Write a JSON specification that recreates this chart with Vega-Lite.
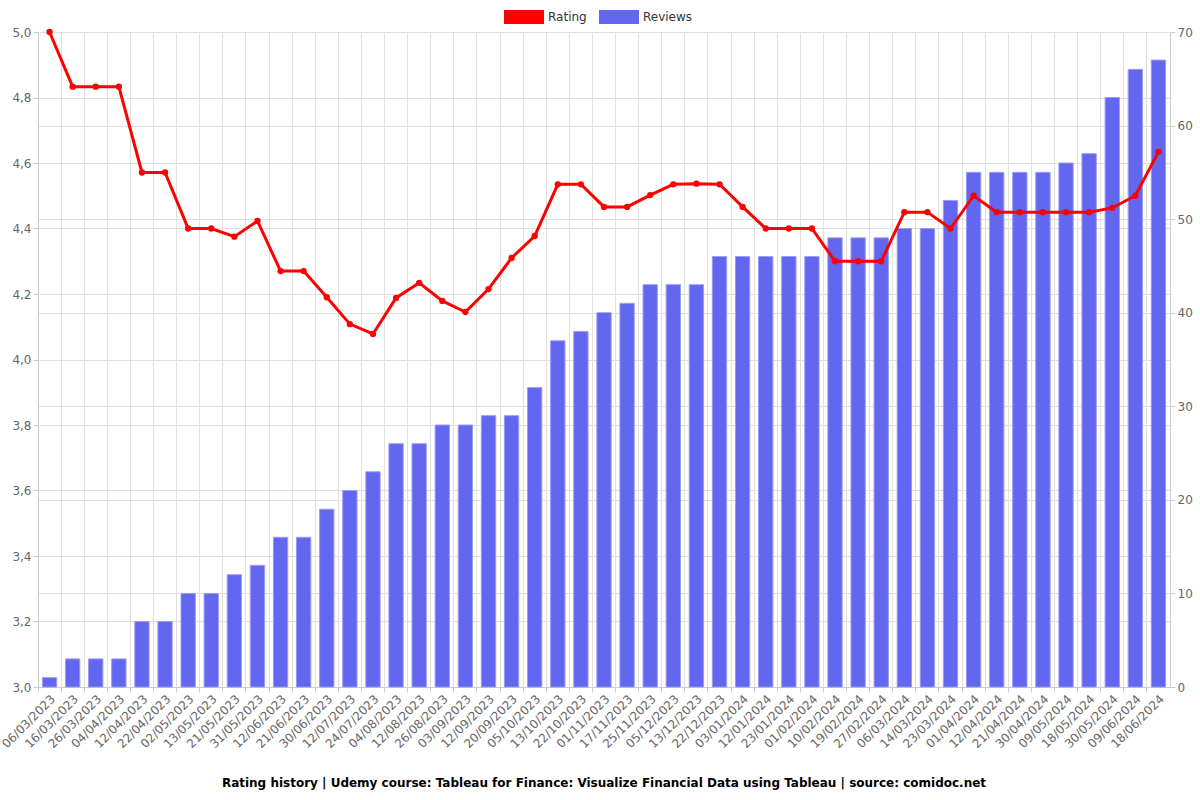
{
  "$schema": "https://vega.github.io/schema/vega-lite/v6.json",
  "autosize": {"type": "none"},
  "width": 1132,
  "height": 655,
  "padding": {"left": 38, "top": 32, "right": 30, "bottom": 113},
  "background": "white",
  "config": {
    "font": "DejaVu Sans",
    "view": {"stroke": null},
    "axis": {"labelFont": "DejaVu Sans", "labelFontSize": 12, "labelColor": "#666", "gridColor": "#e0e0e0", "domainColor": "#ccc", "tickColor": "#ccc"},
    "legend": {"labelFont": "DejaVu Sans", "labelFontSize": 12, "labelColor": "#333"}
  },
  "title": {
    "text": "Rating history | Udemy course: Tableau for Finance: Visualize Financial Data using Tableau | source: comidoc.net",
    "orient": "bottom",
    "anchor": "middle",
    "fontSize": 12,
    "fontWeight": "bold",
    "color": "#000",
    "offset": 28
  },
  "data": {
    "values": [
      {"date": "06/03/2023", "rating": 5.0, "reviews": 1},
      {"date": "16/03/2023", "rating": 4.833, "reviews": 3},
      {"date": "26/03/2023", "rating": 4.833, "reviews": 3},
      {"date": "04/04/2023", "rating": 4.833, "reviews": 3},
      {"date": "12/04/2023", "rating": 4.571, "reviews": 7},
      {"date": "22/04/2023", "rating": 4.571, "reviews": 7},
      {"date": "02/05/2023", "rating": 4.4, "reviews": 10},
      {"date": "13/05/2023", "rating": 4.4, "reviews": 10},
      {"date": "21/05/2023", "rating": 4.375, "reviews": 12},
      {"date": "31/05/2023", "rating": 4.423, "reviews": 13},
      {"date": "12/06/2023", "rating": 4.27, "reviews": 16},
      {"date": "21/06/2023", "rating": 4.27, "reviews": 16},
      {"date": "30/06/2023", "rating": 4.19, "reviews": 19},
      {"date": "12/07/2023", "rating": 4.108, "reviews": 21},
      {"date": "24/07/2023", "rating": 4.078, "reviews": 23},
      {"date": "04/08/2023", "rating": 4.188, "reviews": 26},
      {"date": "12/08/2023", "rating": 4.234, "reviews": 26},
      {"date": "26/08/2023", "rating": 4.179, "reviews": 28},
      {"date": "03/09/2023", "rating": 4.145, "reviews": 28},
      {"date": "12/09/2023", "rating": 4.215, "reviews": 29},
      {"date": "20/09/2023", "rating": 4.31, "reviews": 29},
      {"date": "05/10/2023", "rating": 4.377, "reviews": 32},
      {"date": "13/10/2023", "rating": 4.535, "reviews": 37},
      {"date": "22/10/2023", "rating": 4.535, "reviews": 38},
      {"date": "01/11/2023", "rating": 4.466, "reviews": 40},
      {"date": "17/11/2023", "rating": 4.466, "reviews": 41},
      {"date": "25/11/2023", "rating": 4.502, "reviews": 43},
      {"date": "05/12/2023", "rating": 4.535, "reviews": 43},
      {"date": "13/12/2023", "rating": 4.537, "reviews": 43},
      {"date": "22/12/2023", "rating": 4.535, "reviews": 46},
      {"date": "03/01/2024", "rating": 4.466, "reviews": 46},
      {"date": "12/01/2024", "rating": 4.4, "reviews": 46},
      {"date": "23/01/2024", "rating": 4.4, "reviews": 46},
      {"date": "01/02/2024", "rating": 4.4, "reviews": 46},
      {"date": "10/02/2024", "rating": 4.3, "reviews": 48},
      {"date": "19/02/2024", "rating": 4.3, "reviews": 48},
      {"date": "27/02/2024", "rating": 4.3, "reviews": 48},
      {"date": "06/03/2024", "rating": 4.45, "reviews": 49},
      {"date": "14/03/2024", "rating": 4.45, "reviews": 49},
      {"date": "23/03/2024", "rating": 4.4, "reviews": 52},
      {"date": "01/04/2024", "rating": 4.5, "reviews": 55},
      {"date": "12/04/2024", "rating": 4.45, "reviews": 55},
      {"date": "21/04/2024", "rating": 4.45, "reviews": 55},
      {"date": "30/04/2024", "rating": 4.45, "reviews": 55},
      {"date": "09/05/2024", "rating": 4.45, "reviews": 56},
      {"date": "18/05/2024", "rating": 4.45, "reviews": 57},
      {"date": "30/05/2024", "rating": 4.463, "reviews": 63},
      {"date": "09/06/2024", "rating": 4.5, "reviews": 66},
      {"date": "18/06/2024", "rating": 4.634, "reviews": 67}
    ]
  },
  "layer": [
    {
      "mark": {"type": "bar", "width": {"band": 0.62}, "stroke": "#9a9cf4", "strokeWidth": 1},
      "encoding": {
        "x": {
          "field": "date", "type": "ordinal", "sort": null,
          "scale": {"paddingInner": 0, "paddingOuter": 0},
          "axis": {"orient": "bottom", "bandPosition": 0, "grid": true, "labels": false, "ticks": true, "domain": false, "title": null, "tickSize": 5}
        },
        "y": {
          "field": "reviews", "type": "quantitative",
          "scale": {"domain": [0, 70]},
          "axis": {"orient": "right", "title": null, "values": [0, 10, 20, 30, 40, 50, 60, 70], "grid": true, "labelOverlap": false}
        },
        "color": {
          "datum": "Reviews",
          "scale": {"domain": ["Rating", "Reviews"], "range": ["#ff0000", "#6366ee"]},
          "legend": {
            "title": null, "orient": "none", "direction": "horizontal", "legendX": 466, "legendY": -35,
            "symbolType": "M-1,-0.35L1,-0.35L1,0.35L-1,0.35Z", "symbolSize": 1600, "symbolStrokeWidth": 0, "columnPadding": 12
          }
        }
      }
    },
    {
      "mark": {"type": "line", "strokeWidth": 3, "point": {"filled": true, "size": 40, "color": "#ff0000"}},
      "encoding": {
        "x": {
          "field": "date", "type": "ordinal", "sort": null,
          "axis": {"orient": "bottom", "grid": false, "labelAngle": -45, "ticks": false, "title": null, "labelPadding": 6, "domainColor": "#ccc"}
        },
        "y": {
          "field": "rating", "type": "quantitative",
          "scale": {"domain": [3, 5]},
          "axis": {"orient": "left", "title": null, "values": [3, 3.2, 3.4, 3.6, 3.8, 4, 4.2, 4.4, 4.6, 4.8, 5], "labelOverlap": false, "labelExpr": "replace(format(datum.value, '.1f'), '.', ',')", "grid": true}
        },
        "color": {"datum": "Rating"}
      }
    }
  ],
  "resolve": {"scale": {"y": "independent"}, "axis": {"x": "independent"}}
}
